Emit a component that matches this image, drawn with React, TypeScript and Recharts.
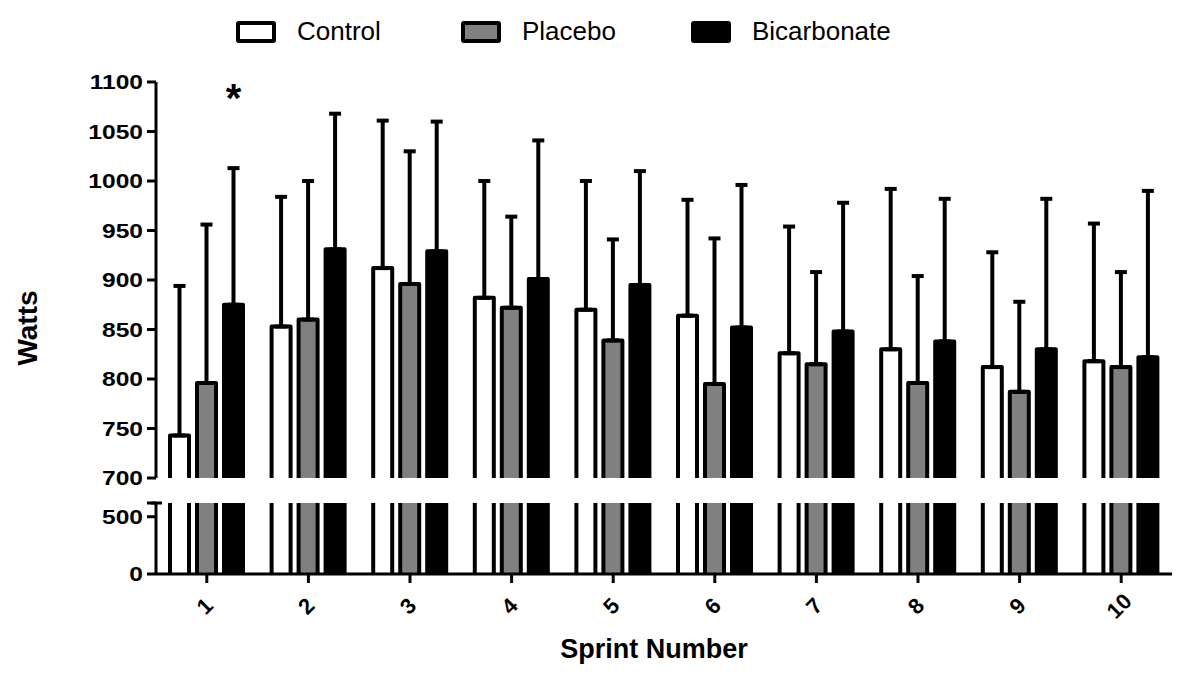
import React from 'react';
import { BarChart, Bar, XAxis, YAxis, ErrorBar, Legend, LabelList } from 'recharts';

const sprints = ['1', '2', '3', '4', '5', '6', '7', '8', '9', '10'];
const controlMean = [743, 853, 912, 882, 870, 864, 826, 830, 812, 818];
const controlSD = [151, 131, 149, 118, 130, 117, 128, 162, 116, 139];
const placeboMean = [796, 860, 896, 872, 839, 795, 815, 796, 787, 812];
const placeboSD = [160, 140, 134, 92, 102, 147, 93, 108, 91, 96];
const bicarbMean = [875, 931, 929, 901, 895, 852, 848, 838, 830, 822];
const bicarbSD = [138, 137, 131, 140, 115, 144, 130, 144, 152, 168];
const significance = ['*', '', '', '', '', '', '', '', '', ''];
const upperTicks = [700, 750, 800, 850, 900, 950, 1000, 1050, 1100];
const lowerTicks = [0, 500, 620];

const seriesNames = ['Control', 'Placebo', 'Bicarbonate'];
const seriesFills = ['#ffffff', '#808080', '#000000'];

const rows = sprints.map((s, i) => ({
  sprint: s,
  control: controlMean[i],
  controlErr: [0, controlSD[i]],
  placebo: placeboMean[i],
  placeboErr: [0, placeboSD[i]],
  bicarb: bicarbMean[i],
  bicarbErr: [0, bicarbSD[i]],
  sig: significance[i],
}));

const FONT = '"Liberation Sans", Arial, Helvetica, sans-serif';

const OpenBar = (props: any) => {
  const { x, y, width, height, fill } = props;
  if (width == null || height == null) return null;
  return (
    <g>
      <rect x={x} y={y} width={width} height={height} fill={fill} stroke="none" />
      <path
        d={`M${x},${y + height} L${x},${y} L${x + width},${y} L${x + width},${y + height}`}
        fill="none"
        stroke="#000"
        strokeWidth={4}
        strokeLinejoin="round"
      />
    </g>
  );
};

const YTick = (props: any) => {
  const { x, y, payload } = props;
  if (payload.value === 620) {
    return <line x1={x + 8} x2={x + 19} y1={y} y2={y} stroke="#000" strokeWidth={3} />;
  }
  return (
    <text
      transform={`translate(${x},${y}) scale(1.17,1)`}
      textAnchor="end"
      dominantBaseline="central"
      fontFamily={FONT}
      fontSize={21}
      fontWeight="bold"
      fill="#000"
    >
      {payload.value}
    </text>
  );
};

const XTick = (props: any) => {
  const { x, y, payload } = props;
  return (
    <text
      transform={`translate(${x - 2},${y + 21}) rotate(-45)`}
      textAnchor="middle"
      dominantBaseline="central"
      fontFamily={FONT}
      fontSize={22}
      fontWeight="bold"
      fill="#000"
    >
      {payload.value}
    </text>
  );
};

const LegendContent = () => {
  const widths = [225, 230, 200];
  return (
    <div style={{ display: 'flex', alignItems: 'center', paddingLeft: 236, height: 44, fontFamily: FONT }}>
      {seriesNames.map((n, i) => (
        <div key={n} style={{ display: 'flex', alignItems: 'center', width: widths[i] }}>
          <div
            style={{
              width: 32,
              height: 14,
              border: '4px solid #000',
              borderRadius: 3,
              background: seriesFills[i],
              marginRight: 21,
            }}
          />
          <span style={{ fontSize: 26, color: '#000', lineHeight: '30px', position: 'relative', top: -1 }}>{n}</span>
        </div>
      ))}
    </div>
  );
};

const Asterisk = (props: any) => {
  const { x, width, value } = props;
  if (!value) return null;
  return (
    <text x={x + width / 2} y={112} textAnchor="middle" fontFamily={FONT} fontSize={40} fontWeight="bold" fill="#000">
      {value}
    </text>
  );
};

const SprintLabel = (props: any) => {
  const vb = props.viewBox || { x: 156, y: 84, width: 1016, height: 100 };
  return (
    <text
      x={vb.x + vb.width / 2 - 10}
      y={vb.y + vb.height - 16}
      textAnchor="middle"
      fontFamily={FONT}
      fontSize={27}
      fontWeight="bold"
      fill="#000"
    >
      Sprint Number
    </text>
  );
};

export default function App() {
  return (
    <div style={{ position: 'absolute', left: 0, top: 0, width: 1177, height: 674, background: '#fff', fontFamily: FONT }}>
      <div style={{ position: 'absolute', left: 0, top: 0 }}>
        <BarChart width={1177} height={492} data={rows} margin={{ top: 82, right: 5, bottom: 14, left: 0 }} barSize={19} barGap={8}>
          <XAxis dataKey="sprint" hide />
          <YAxis
            width={156}
            domain={[700, 1100]}
            ticks={upperTicks}
            interval={0}
            tickSize={9}
            tickMargin={4}
            axisLine={{ stroke: '#000', strokeWidth: 3 }}
            tickLine={{ stroke: '#000', strokeWidth: 3 }}
            tick={<YTick />}
          />
          <Legend
            layout="horizontal"
            verticalAlign="middle"
            align="center"
            wrapperStyle={{ top: 10, left: 0, width: 1177, height: 44 }}
            content={<LegendContent />}
          />
          <Bar dataKey="control" name="Control" fill="#ffffff" shape={<OpenBar />} isAnimationActive={false}>
            <ErrorBar dataKey="controlErr" direction="y" width={6} strokeWidth={4} stroke="#000" />
          </Bar>
          <Bar dataKey="placebo" name="Placebo" fill="#808080" shape={<OpenBar />} isAnimationActive={false}>
            <ErrorBar dataKey="placeboErr" direction="y" width={6} strokeWidth={4} stroke="#000" />
          </Bar>
          <Bar dataKey="bicarb" name="Bicarbonate" fill="#000000" shape={<OpenBar />} isAnimationActive={false}>
            <ErrorBar dataKey="bicarbErr" direction="y" width={6} strokeWidth={4} stroke="#000" />
            <LabelList dataKey="sig" content={<Asterisk />} />
          </Bar>
        </BarChart>
      </div>
      <div style={{ position: 'absolute', left: 0, top: 490 }}>
        <BarChart width={1177} height={184} data={rows} margin={{ top: 13, right: 5, bottom: 0, left: 0 }} barSize={19} barGap={8}>
          <XAxis
            dataKey="sprint"
            height={100}
            interval={0}
            tickSize={9}
            tickMargin={2}
            axisLine={{ stroke: '#000', strokeWidth: 3 }}
            tickLine={{ stroke: '#000', strokeWidth: 3 }}
            tick={<XTick />}
            label={<SprintLabel />}
          />
          <YAxis
            width={156}
            domain={[0, 620]}
            allowDataOverflow
            ticks={lowerTicks}
            interval={0}
            tickSize={9}
            tickMargin={4}
            axisLine={{ stroke: '#000', strokeWidth: 3 }}
            tickLine={{ stroke: '#000', strokeWidth: 3 }}
            tick={<YTick />}
          />
          <Bar dataKey="control" fill="#ffffff" shape={<OpenBar />} isAnimationActive={false} />
          <Bar dataKey="placebo" fill="#808080" shape={<OpenBar />} isAnimationActive={false} />
          <Bar dataKey="bicarb" fill="#000000" shape={<OpenBar />} isAnimationActive={false} />
        </BarChart>
      </div>
      <div
        style={{
          position: 'absolute',
          left: 28,
          top: 328,
          transform: 'translate(-50%, -50%) rotate(-90deg)',
          fontSize: 28,
          fontWeight: 'bold',
          color: '#000',
          whiteSpace: 'nowrap',
          lineHeight: '32px',
        }}
      >
        Watts
      </div>
    </div>
  );
}
